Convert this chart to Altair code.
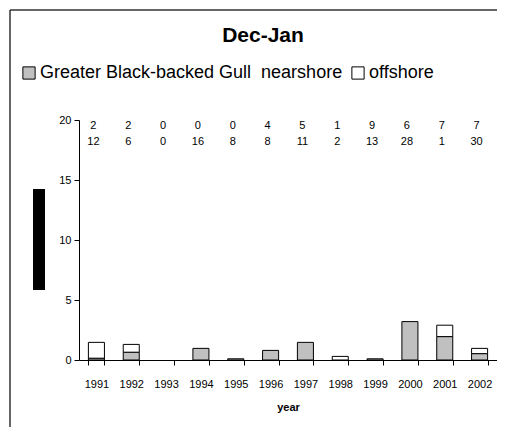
import altair as alt
import pandas as pd

years = ["1991", "1992", "1993", "1994", "1995", "1996", "1997", "1998", "1999", "2000", "2001", "2002"]
nearshore = [0.15, 0.65, 0.0, 0.97, 0.1, 0.8, 1.47, 0.0, 0.1, 3.2, 1.95, 0.53]
offshore = [1.32, 0.65, 0.0, 0.0, 0.0, 0.0, 0.0, 0.3, 0.0, 0.0, 0.95, 0.44]
count_top = [2, 2, 0, 0, 0, 4, 5, 1, 9, 6, 7, 7]
count_bottom = [12, 6, 0, 16, 8, 8, 11, 2, 13, 28, 1, 30]
series_names = ["Greater Black-backed Gull\u00a0\u00a0nearshore", "offshore"]
y_ticks = [0, 5, 10, 15, 20]

FONT = "Liberation Sans"

rows = []
for i, yr in enumerate(years):
    rows.append({"year": yr, "series": series_names[0], "value": nearshore[i], "ord": 0})
    rows.append({"year": yr, "series": series_names[1], "value": offshore[i], "ord": 1})
bars_df = pd.DataFrame(rows)
bars_df = bars_df[bars_df["value"] > 0]
counts_df = pd.DataFrame({"year": years, "top": [str(v) for v in count_top],
                          "bottom": [str(v) for v in count_bottom]})

xscale = alt.Scale(domain=years, paddingInner=0.54, paddingOuter=0.27)
yscale = alt.Scale(domain=[0, 20], nice=False)

bars = alt.Chart(bars_df).mark_bar(stroke="black", strokeWidth=1).encode(
    x=alt.X("year:N", scale=xscale, sort=years,
            axis=alt.Axis(title="year", labelAngle=0, tickBand="extent", tickSize=5,
                          labelPadding=13, titlePadding=12, titleFontWeight="bold",
                          titleFontSize=11, labelFontSize=11)),
    y=alt.Y("value:Q", stack="zero", scale=yscale,
            axis=alt.Axis(title=None, values=y_ticks, tickSize=5, labelPadding=3,
                          labelFontSize=11, grid=False)),
    fill=alt.Fill("series:N", scale=alt.Scale(domain=series_names, range=["#C0C0C0", "#FFFFFF"]),
                  legend=alt.Legend(title=None, orient="none", legendX=-59, legendY=-56,
                                    direction="horizontal", symbolType="square", symbolSize=150,
                                    symbolStrokeColor="black", symbolStrokeWidth=1,
                                    labelFontSize=18, labelFont=FONT, labelColor="black",
                                    labelOffset=2, columnPadding=6, labelLimit=400)),
    order=alt.Order("ord:Q"),
)

top_txt = alt.Chart(counts_df).mark_text(fontSize=11, font=FONT, color="black", dx=-3).encode(
    x=alt.X("year:N", scale=xscale, sort=years), y=alt.value(6), text="top:N")
bot_txt = alt.Chart(counts_df).mark_text(fontSize=11, font=FONT, color="black", dx=-3).encode(
    x=alt.X("year:N", scale=xscale, sort=years), y=alt.value(22), text="bottom:N")

one = pd.DataFrame({"k": [0]})
title_txt = alt.Chart(one).mark_text(fontSize=21, font=FONT, fontWeight="bold", color="black").encode(
    x=alt.value(184), y=alt.value(-84), text=alt.value("Dec-Jan"))
block = alt.Chart(one).mark_rect(color="black").encode(
    x=alt.value(-46), x2=alt.value(-34), y=alt.value(69), y2=alt.value(170))
frame_top = alt.Chart(one).mark_rule(color="#333333", strokeWidth=1.5).encode(
    x=alt.value(-69), x2=alt.value(418), y=alt.value(-110), y2=alt.value(-110))
frame_left = alt.Chart(one).mark_rule(color="#333333", strokeWidth=1.5).encode(
    x=alt.value(-69), x2=alt.value(-69), y=alt.value(-110), y2=alt.value(307))

chart = alt.layer(frame_top, frame_left, block, title_txt, bars, top_txt, bot_txt).properties(
    width=418, height=240,
    padding={"left": 71, "top": 112, "right": 0, "bottom": 67},
    autosize=alt.AutoSizeParams(type="none"),
).configure_view(stroke=None).configure_axis(
    domainColor="black", tickColor="black", labelColor="black", titleColor="black",
    labelFont=FONT, titleFont=FONT,
)

chart.save("out.html", embed_options={"renderer": "svg", "actions": False})
